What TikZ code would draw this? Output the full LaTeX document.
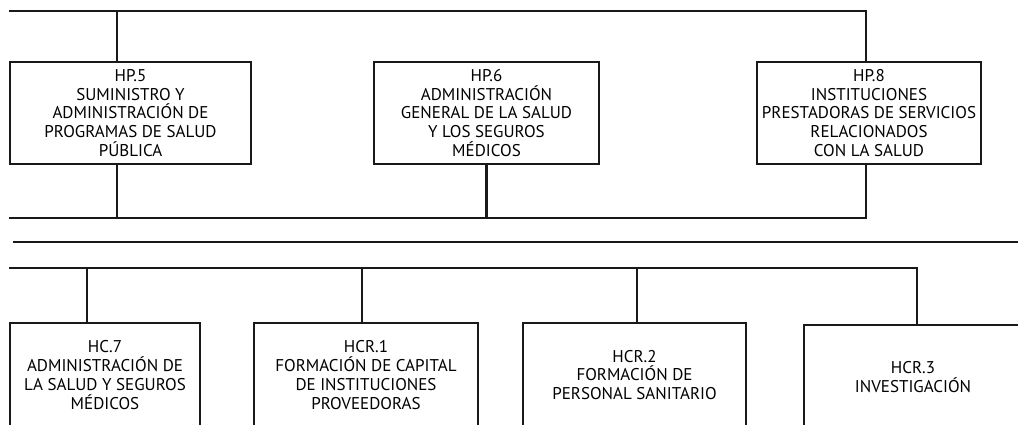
\documentclass[tikz,border=0pt]{standalone}
\usepackage{fontspec}
\setmainfont{PT Sans}
\usepackage{tikz}
\usetikzlibrary{positioning}

\begin{document}
\begin{tikzpicture} [x=1pt, y=-1pt,
            draw=black!90,
            line width=2.8pt,
            box/.style = {draw, rectangle, align=center, inner sep=0pt,
                font=\fontsize{17}{18.8}\selectfont},
            upper/.style = {box, minimum height=102pt},
            lower/.style = {box, minimum height=104pt}]

            \useasboundingbox (0,0) rectangle (1018,424);
            \clip (0,0) rectangle (1018,424);

            % Bus points
            \coordinate (tl) at (9,11);
            \coordinate (tr) at (866,11);
            \coordinate (bl) at (9,218);
            \coordinate (br) at (866,218);
            \coordinate (t5) at (117,11);
            \coordinate (b5) at (117,218);
            \coordinate (sepl) at (13,242);
            \coordinate (sepr) at (1020,242);
            \coordinate (ll) at (9,268);
            \coordinate (lr) at (917,268);
            \coordinate (l7) at (87,268);
            \coordinate (l1) at (362,268);
            \coordinate (l2) at (637,268);

            % Box HP.5
            \node (hp5) [upper, minimum width=241pt]
                at (130.5,113) {HP.5\\SUMINISTRO Y\\ADMINISTRACIÓN DE\\PROGRAMAS DE SALUD\\PÚBLICA};

            % Box HP.6
            \node (hp6) [upper, minimum width=225pt]
                at (486.5,113) {HP.6\\ADMINISTRACIÓN\\GENERAL DE LA SALUD\\Y LOS SEGUROS\\MÉDICOS};

            % Box HP.8
            \node (hp8) [upper, minimum width=224pt]
                at (869,113) {HP.8\\INSTITUCIONES\\PRESTADORAS DE SERVICIOS\\RELACIONADOS\\CON LA SALUD};

            % Box HC.7
            \node (hc7) [lower, minimum width=190pt]
                at (105,375) {HC.7\\ADMINISTRACIÓN DE\\LA SALUD Y SEGUROS\\MÉDICOS};

            % Box HCR.1
            \node (hcr1) [lower, minimum width=224pt]
                at (366,375) {HCR.1\\FORMACIÓN DE CAPITAL\\DE INSTITUCIONES\\PROVEEDORAS};

            % Box HCR.2
            \node (hcr2) [lower, minimum width=223pt]
                at (634.5,375) {HCR.2\\FORMACIÓN DE\\PERSONAL SANITARIO};

            % Box HCR.3
            \node (hcr3) [lower, minimum width=218pt]
                at (913,377) {HCR.3\\INVESTIGACIÓN};

            % Upper buses
            \draw (t5 |- hp5.north) -- (t5) -- (tr) -- (tr |- hp8.north);
            \draw (tl) -- (t5);
            \draw (b5 |- hp5.south) -- (b5);
            \draw (bl) -- (br) -- (br |- hp8.south);
            \draw (hp6.south) -- (hp6.south |- bl);

            % Separator
            \draw (sepl) -- (sepr);

            % Lower bus
            \draw (ll) -- (lr) -- (lr |- hcr3.north);
            \draw (l7) -- (l7 |- hc7.north);
            \draw (l1) -- (l1 |- hcr1.north);
            \draw (l2) -- (l2 |- hcr2.north);
        \end{tikzpicture}
\end{document}
